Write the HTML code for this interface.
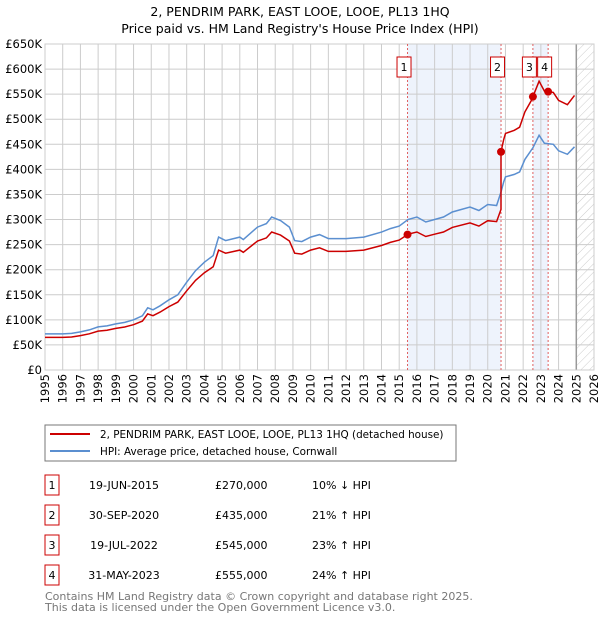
<!DOCTYPE html>
<html><head><meta charset="utf-8"><style>
body{margin:0;background:#fff;font-family:"DejaVu Sans","Liberation Sans",sans-serif;}
svg text{font-family:"DejaVu Sans","Liberation Sans",sans-serif;}
</style></head><body>
<svg id="c" width="600" height="620" xmlns="http://www.w3.org/2000/svg">
<defs><pattern id="hatch" width="6" height="6" patternUnits="userSpaceOnUse" patternTransform="rotate(45)"><line x1="0" y1="0" x2="0" y2="6" stroke="#ccc" stroke-width="1"/></pattern></defs>
<text x="300" y="16" text-anchor="middle" font-size="12.5" fill="#000">2, PENDRIM PARK, EAST LOOE, LOOE, PL13 1HQ</text>
<text x="300" y="33" text-anchor="middle" font-size="12.5" fill="#000">Price paid vs. HM Land Registry's House Price Index (HPI)</text>
<g id="plot"></g>
<rect x="45" y="425" width="411" height="36" fill="#fff" stroke="#777"/>
<line x1="50" y1="434" x2="90" y2="434" stroke="#cc0000" stroke-width="2"/>
<text x="100" y="438" font-size="10.4">2, PENDRIM PARK, EAST LOOE, LOOE, PL13 1HQ (detached house)</text>
<line x1="50" y1="451" x2="90" y2="451" stroke="#5b8fd0" stroke-width="2"/>
<text x="100" y="455" font-size="10.4">HPI: Average price, detached house, Cornwall</text>
<g id="table" font-size="11"></g>
<text x="45" y="600" font-size="11" fill="#777">Contains HM Land Registry data © Crown copyright and database right 2025.</text>
<text x="45" y="611" font-size="11" fill="#777">This data is licensed under the Open Government Licence v3.0.</text>
</svg>
<script>
const hpiYears=[1995,1995.5,1996,1996.5,1997,1997.5,1998,1998.5,1999,1999.5,2000,2000.5,2000.8,2001.1,2001.5,2002,2002.5,2003,2003.5,2004,2004.5,2004.8,2005.2,2006,2006.2,2007,2007.5,2007.8,2008.3,2008.8,2009.1,2009.5,2010,2010.5,2011,2012,2013,2014,2014.5,2015,2015.5,2016,2016.5,2017,2017.5,2018,2019,2019.5,2020,2020.5,2020.75,2020.9,2021,2021.5,2021.8,2022.1,2022.55,2022.9,2023.2,2023.7,2024,2024.5,2024.9];
const hpiValues=[72,72,72,73,76,80,86,88,92,95,100,108,124,120,128,140,150,175,198,215,228,265,258,265,260,285,292,305,298,285,258,256,265,270,262,262,265,275,282,287,300,305,295,300,305,315,325,318,330,328,355,375,385,390,395,420,443,468,452,450,437,430,445];
const saleLabels=["1","2","3","4"];
const saleYears=[2015.47,2020.75,2022.55,2023.41];
const salePrices=[270,435,545,555];
const saleDates=["19-JUN-2015","30-SEP-2020","19-JUL-2022","31-MAY-2023"];
const salePriceText=["£270,000","£435,000","£545,000","£555,000"];
const saleHpiText=["10% ↓ HPI","21% ↑ HPI","23% ↑ HPI","24% ↑ HPI"];
const yTicks=[0,50,100,150,200,250,300,350,400,450,500,550,600,650];
const yTickLabels=["£0","£50K","£100K","£150K","£200K","£250K","£300K","£350K","£400K","£450K","£500K","£550K","£600K","£650K"];
const xTicks=[1995,1996,1997,1998,1999,2000,2001,2002,2003,2004,2005,2006,2007,2008,2009,2010,2011,2012,2013,2014,2015,2016,2017,2018,2019,2020,2021,2022,2023,2024,2025,2026];

const L=45,R=594,T=44,B=370,x0=1995,x1=2026,yMax=650;
const X=v=>L+(v-x0)/(x1-x0)*(R-L);
const Y=v=>B-v/yMax*(B-T);
const NS="http://www.w3.org/2000/svg";
const plot=document.getElementById('plot');
function mk(tag,attrs,parent){const e=document.createElementNS(NS,tag);for(const k in attrs)e.setAttribute(k,attrs[k]);(parent||plot).appendChild(e);return e;}
function hpiAt(t){for(let i=1;i<hpiYears.length;i++){if(t<=hpiYears[i]){const f=(t-hpiYears[i-1])/(hpiYears[i]-hpiYears[i-1]);return hpiValues[i-1]+f*(hpiValues[i]-hpiValues[i-1]);}}return hpiValues[hpiValues.length-1];}

let e;
e=mk('rect',{x:X(saleYears[0]),y:T,width:X(saleYears[1])-X(saleYears[0]),height:B-T,fill:'#eef3fc'});


e=mk('rect',{x:X(saleYears[2]),y:T,width:X(saleYears[3])-X(saleYears[2]),height:B-T,fill:'#eef3fc'});


e=mk('rect',{x:X(2025),y:T,width:R-X(2025),height:B-T,fill:'url(#hatch)'});


yTicks.forEach((v,i)=>{
 e=mk('line',{x1:L,x2:R,y1:Y(v),y2:Y(v),stroke:'#ccc','stroke-width':1});
 
 
 e=mk('text',{x:L-3,y:Y(v)+4,'text-anchor':'end','font-size':11.5});
 e.textContent=yTickLabels[i];
 
 
});
xTicks.forEach(v=>{
 e=mk('line',{x1:X(v),x2:X(v),y1:T,y2:B,stroke:'#ccc','stroke-width':1});
 
 
 e=mk('text',{x:0,y:0,'text-anchor':'end','font-size':11.5,transform:`translate(${X(v)+4},${B+4}) rotate(-90)`});
 e.textContent=v;
 
 
});
e=mk('line',{x1:X(2025),x2:X(2025),y1:T,y2:B,stroke:'#999','stroke-width':1.5});


e=mk('rect',{x:L,y:T,width:R-L,height:B-T,fill:'none',stroke:'#ccc'});


saleYears.forEach(s=>{
 e=mk('line',{x1:X(s),x2:X(s),y1:T,y2:B,stroke:'#e06060','stroke-width':1,'stroke-dasharray':'2,2'});
 
 
});
let d=hpiYears.map((t,i)=>(i?'L':'M')+X(t).toFixed(1)+','+Y(hpiValues[i]).toFixed(1)).join(' ');
e=mk('path',{d:d,fill:'none',stroke:'#5b8fd0','stroke-width':1.5});


const ratios=saleYears.map((s,i)=>salePrices[i]/hpiAt(s));
function redAt(t){let k=0;for(let i=0;i<saleYears.length;i++)if(t>=saleYears[i])k=i;return hpiAt(t)*ratios[k];}
let pts=[];hpiYears.forEach(t=>pts.push(t));saleYears.forEach(s=>{pts.push(s-0.001);pts.push(s);});
pts.sort((a,b)=>a-b);
d=pts.map((t,i)=>(i?'L':'M')+X(t).toFixed(1)+','+Y(redAt(t)).toFixed(1)).join(' ');
e=mk('path',{d:d,fill:'none',stroke:'#cc0000','stroke-width':1.5});


saleYears.forEach((s,i)=>{
 e=mk('circle',{cx:X(s),cy:Y(salePrices[i]),r:4,fill:'#cc0000'});
 
 
 const lx=X(s)-10.5;
 e=mk('rect',{x:lx,y:57,width:14,height:20,fill:'#fff',stroke:'#cc0000'});
 
 
 e=mk('text',{x:lx+7,y:71,'text-anchor':'middle','font-size':11});
 e.textContent=saleLabels[i];
 
 
});
const tbl=document.getElementById('table');
saleLabels.forEach((l,i)=>{
 const y=475+i*30;
 e=mk('rect',{x:45,y:y,width:14,height:20,fill:'#fff',stroke:'#cc0000'},tbl);
 
 
 e=mk('text',{x:52,y:y+14,'text-anchor':'middle'},tbl);e.textContent=l;
 
 
 e=mk('text',{x:124,y:y+14,'text-anchor':'middle'},tbl);e.textContent=saleDates[i];
 
 
 e=mk('text',{x:215,y:y+14},tbl);e.textContent=salePriceText[i];
 
 
 e=mk('text',{x:312,y:y+14},tbl);e.textContent=saleHpiText[i];
 
 
});
</script>
</body></html>
